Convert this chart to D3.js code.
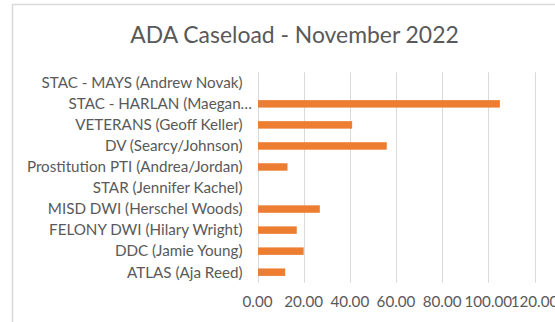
<!DOCTYPE html>
<html>
<head>
<meta charset="utf-8">
<script src="https://cdn.jsdelivr.net/npm/d3@7/dist/d3.min.js"></script>
<style>
  html, body { margin: 0; padding: 0; background: #fff; }
  svg { display: block; font-family: Lato, "Open Sans", sans-serif; }
</style>
</head>
<body>
<svg id="chart" width="555" height="322"></svg>
<script>
// Program caseloads, listed top to bottom as shown
const categories = [
  "STAC - MAYS (Andrew Novak)",
  "STAC - HARLAN (Maegan…",
  "VETERANS (Geoff Keller)",
  "DV (Searcy/Johnson)",
  "Prostitution PTI (Andrea/Jordan)",
  "STAR (Jennifer Kachel)",
  "MISD DWI (Herschel Woods)",
  "FELONY DWI (Hilary Wright)",
  "DDC (Jamie Young)",
  "ATLAS (Aja Reed)"
];
const caseload = [0, 105, 41, 56, 13, 0, 27, 17, 20, 12];
const xTicks = [0, 20, 40, 60, 80, 100, 120];
const title = "ADA Caseload - November 2022";

const svg = d3.select("#chart");
const textColor = "#595959";
const gridColor = "#d9d9d9";
const barColor = "#ED7D31";

// chart frame
svg.append("rect")
  .attr("x", 12.5).attr("y", 4.5)
  .attr("width", 560).attr("height", 330)
  .attr("fill", "#fff").attr("stroke", gridColor).attr("stroke-width", 1.5);

svg.append("text")
  .attr("x", 294.5).attr("y", 43)
  .attr("text-anchor", "middle")
  .attr("fill", textColor)
  .attr("font-size", 22.9)
  .text(title);

const plot = { left: 257.5, right: 534.5, top: 72.3, bottom: 282.7 };

const x = d3.scaleLinear().domain([0, 120]).range([plot.left, plot.right]);
const y = d3.scaleBand().domain(categories).range([plot.top, plot.bottom]).paddingInner(0.645).paddingOuter(0.3225);

// vertical gridlines
svg.append("g")
  .selectAll("line")
  .data(xTicks)
  .join("line")
  .attr("x1", d => Math.round(x(d)) + 0.5).attr("x2", d => Math.round(x(d)) + 0.5)
  .attr("y1", plot.top).attr("y2", plot.bottom)
  .attr("stroke", gridColor).attr("stroke-width", 1);

// bars
svg.append("g")
  .selectAll("rect")
  .data(categories.map((c, i) => ({ c, v: caseload[i] })))
  .join("rect")
  .attr("x", x(0) + 0.5)
  .attr("y", d => y(d.c))
  .attr("width", d => Math.max(0, x(d.v) - x(0) - 0.5))
  .attr("height", y.bandwidth())
  .attr("fill", barColor);

// category axis labels
svg.append("g")
  .selectAll("text")
  .data(categories)
  .join("text")
  .attr("x", d => d.endsWith("…") ? 252 : 242.5)
  .attr("y", d => y(d) + y.bandwidth() / 2)
  .attr("dy", "0.35em")
  .attr("text-anchor", "end")
  .attr("fill", textColor)
  .attr("font-size", 15.2)
  .text(d => d);

// value axis labels
const fmt = d3.format(".2f");
svg.append("g")
  .selectAll("text")
  .data(xTicks)
  .join("text")
  .attr("x", d => x(d))
  .attr("y", 307)
  .attr("text-anchor", "middle")
  .attr("fill", textColor)
  .attr("font-size", 15.2)
  .text(d => fmt(d));
</script>
</body>
</html>
